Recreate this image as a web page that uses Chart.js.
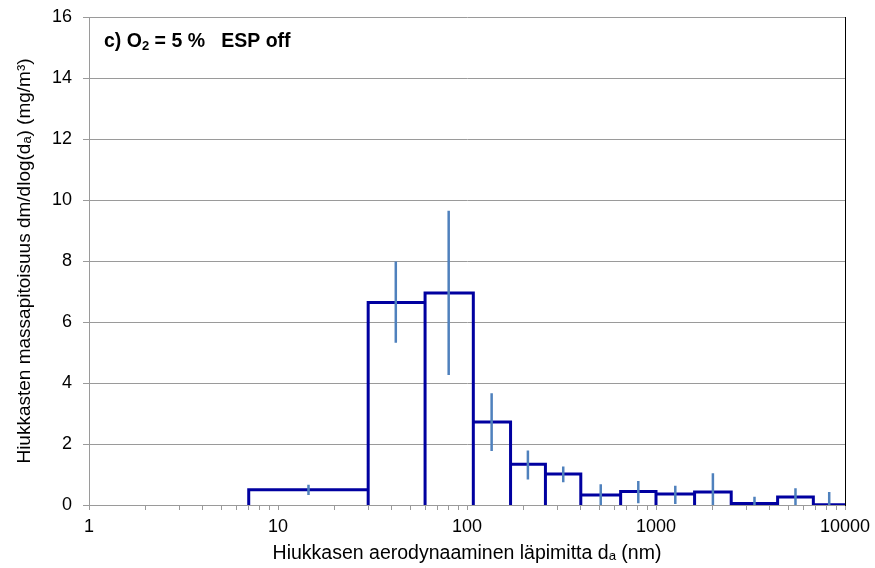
<!DOCTYPE html>
<html>
<head>
<meta charset="utf-8">
<title>Hiukkasten massapitoisuus</title>
<script src="https://cdn.jsdelivr.net/npm/chart.js@4.4.1/dist/chart.umd.min.js"></script>
<style>
  html, body { margin: 0; padding: 0; background: #fff; }
  canvas { display: block; }
</style>
</head>
<body>
<canvas id="massCanvas" width="875" height="568"></canvas>
<script>
// ELPI stage cut diameters (nm) and dm/dlog(da) of each stage (mg/m3)
const stageEdges = [7, 30, 60, 108, 170, 260, 400, 650, 1000, 1600, 2500, 4400, 6800, 10000];
const stageValues = [0.50, 6.64, 6.95, 2.72, 1.34, 1.02, 0.33, 0.44, 0.36, 0.43, 0.05, 0.26, 0.01];

// error bars: position (nm), lower and upper limit
const errMid = [14.5, 42, 80, 135, 210, 323, 510, 806, 1265, 2000, 3320, 5470, 8250];
const errLow = [0.33, 5.32, 4.26, 1.77, 0.84, 0.75, 0, 0.06, 0.03, 0, 0, 0, 0];
const errHigh = [0.66, 7.98, 9.65, 3.66, 1.79, 1.26, 0.68, 0.79, 0.63, 1.04, 0.27, 0.55, 0.43];

const xTickLabels = [1, 10, 100, 1000, 10000];
const yTickLabels = [0, 2, 4, 6, 8, 10, 12, 14, 16];

const fontFamily = '"Liberation Sans", Arial, sans-serif';
const gridGray = '#9a9a9a';

// each stage drawn as an open box: up, across, down
const outline = [];
for (let i = 0; i < stageValues.length; i++) {
	outline.push({x: stageEdges[i], y: 0});
	outline.push({x: stageEdges[i], y: stageValues[i]});
	outline.push({x: stageEdges[i + 1], y: stageValues[i]});
	outline.push({x: stageEdges[i + 1], y: 0});
}

// vertical error lines, broken by null points
const errorLines = [];
for (let i = 0; i < errMid.length; i++) {
	errorLines.push({x: errMid[i], y: errLow[i]});
	errorLines.push({x: errMid[i], y: errHigh[i]});
	errorLines.push({x: errMid[i], y: null});
}

// 1..9 per decade for the log axis tick marks
const xTicks = [];
for (let i = 0; i < xTickLabels.length - 1; i++) {
	for (let k = 1; k < 10; k++) xTicks.push(k * xTickLabels[i]);
}
xTicks.push(xTickLabels[xTickLabels.length - 1]);

// panel label with subscript 2
const panelLabel = {
	id: 'panelLabel',
	afterDraw(chart) {
		const ctx = chart.ctx;
		let x = chart.chartArea.left + 15;
		const y = 47;
		ctx.save();
		ctx.fillStyle = '#000';
		ctx.textBaseline = 'alphabetic';
		ctx.font = 'bold 19.5px ' + fontFamily;
		ctx.fillText('c) O', x, y);
		x += ctx.measureText('c) O').width;
		ctx.font = 'bold 13px ' + fontFamily;
		ctx.fillText('2', x, y + 3);
		x += ctx.measureText('2').width;
		ctx.font = 'bold 19.5px ' + fontFamily;
		ctx.fillText(' = 5 %   ESP off', x, y);
		ctx.restore();
	}
};

const ctx = document.querySelector('#massCanvas').getContext('2d');

const massChart = new Chart(ctx, {
	type: 'scatter',
	data: {
		datasets: [{
			label: 'hajonta',
			data: errorLines,
			showLine: true,
			spanGaps: false,
			borderColor: '#4F81BD',
			borderWidth: 2.5,
			pointRadius: 0
		},
		{
			label: 'dm/dlog(da)',
			data: outline,
			showLine: true,
			borderColor: '#0000A0',
			borderWidth: 3,
			borderJoinStyle: 'miter',
			pointRadius: 0
		}]
	},
	options: {
		responsive: false,
		animation: false,
		layout: {
			padding: {top: 17, right: 30, left: 0, bottom: 0}
		},
		plugins: {
			legend: {display: false},
			tooltip: {enabled: false}
		},
		scales: {
			x: {
				type: 'logarithmic',
				min: 1,
				max: 10000,
				afterBuildTicks: scale => {
					scale.ticks = xTicks.map(v => ({value: v}));
				},
				afterFit: scale => {
					scale.height = 63;
					scale.paddingLeft = 0;
					scale.paddingRight = 0;
				},
				ticks: {
					autoSkip: false,
					maxRotation: 0,
					padding: 6,
					color: '#000',
					font: {family: fontFamily, size: 18},
					callback: v => xTickLabels.includes(v) ? String(v) : ''
				},
				grid: {drawOnChartArea: false, tickLength: 5, color: gridGray},
				border: {color: gridGray},
				title: {
					display: true,
					text: 'Hiukkasen aerodynaaminen läpimitta dₐ (nm)',
					color: '#000',
					font: {family: fontFamily, size: 19.5},
					padding: {top: 0, bottom: 3}
				}
			},
			y: {
				min: 0,
				max: 16,
				afterBuildTicks: scale => {
					scale.ticks = yTickLabels.map(v => ({value: v}));
				},
				afterFit: scale => {
					scale.width = 89;
					scale.paddingTop = 0;
					scale.paddingBottom = 0;
				},
				ticks: {
					padding: 11,
					color: '#000',
					font: {family: fontFamily, size: 18}
				},
				grid: {color: gridGray, tickLength: 6},
				border: {color: gridGray},
				title: {
					display: true,
					text: 'Hiukkasten massapitoisuus dm/dlog(dₐ) (mg/m³)',
					color: '#000',
					font: {family: fontFamily, size: 19},
					padding: {top: 13, bottom: 0}
				}
			},
			y2: {
				position: 'right',
				min: 0,
				max: 16,
				afterFit: scale => {
					scale.width = 0;
				},
				ticks: {display: false},
				grid: {display: false},
				border: {color: '#000'}
			}
		}
	},
	plugins: [panelLabel]
});
</script>
</body>
</html>
